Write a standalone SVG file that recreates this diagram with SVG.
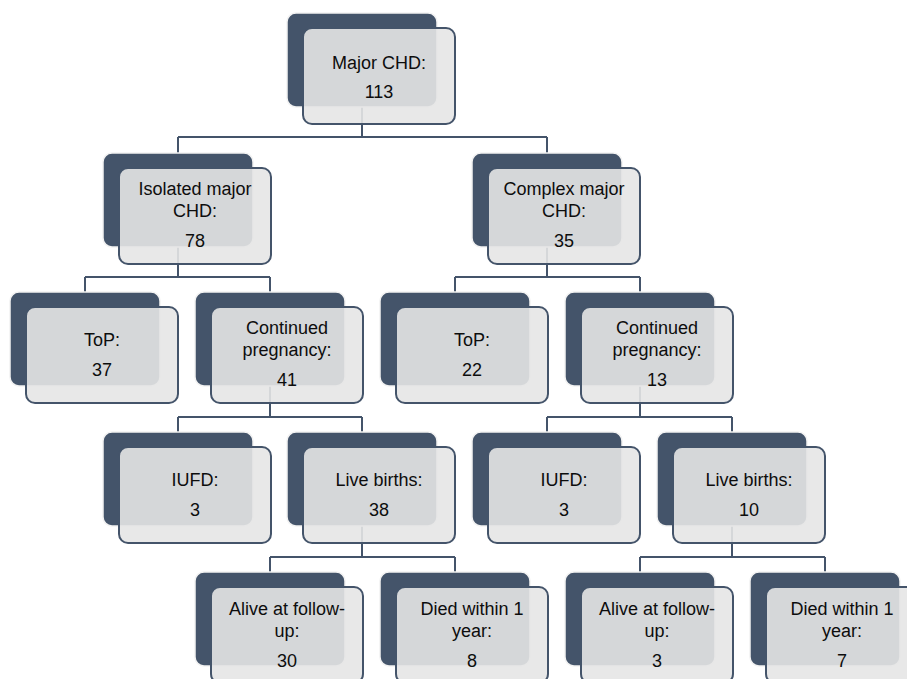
<svg xmlns="http://www.w3.org/2000/svg" width="907" height="679" viewBox="0 0 907 679">
<style>
.bk{fill:#44546a;stroke:#f2f2f2;stroke-width:1.5}
.fr{fill:#e6e6e6;fill-opacity:0.9;stroke:#44546a;stroke-width:2}
.cn{fill:none;stroke:#44546a;stroke-width:2}
text{font-family:"Liberation Sans",Arial,sans-serif;font-size:18px;fill:#0d0d0d;text-anchor:middle}
</style>
<rect width="907" height="679" fill="#fff"/>
<g id="connectors" class="cn">
<path d="M362 106V137M178 137H547M178 137V153M547 137V153"/>
<path d="M178 246V277M85 277H270M85 277V292M270 277V292"/>
<path d="M547 246V277M455 277H640M455 277V292M640 277V292"/>
<path d="M270 386V417M178 417H362M178 417V432M362 417V432"/>
<path d="M640 386V417M547 417H732M547 417V432M732 417V432"/>
<path d="M362 526V557M270 557H455M270 557V572M455 557V572"/>
<path d="M732 526V557M640 557H825M640 557V572M825 557V572"/>
</g>
<g id="n-major">
<rect class="bk" x="287" y="13" width="150" height="94" rx="9"/>
<rect class="fr" x="303" y="28" width="152" height="96" rx="9"/>
<text x="379" y="69">Major CHD:</text><text x="379" y="98">113</text>
</g>
<g id="n-isolated">
<rect class="bk" x="103" y="153" width="150" height="94" rx="9"/>
<rect class="fr" x="119" y="168" width="152" height="96" rx="9"/>
<text x="195" y="195">Isolated major</text><text x="195" y="217">CHD:</text><text x="195" y="247">78</text>
</g>
<g id="n-complex">
<rect class="bk" x="472" y="153" width="150" height="94" rx="9"/>
<rect class="fr" x="488" y="168" width="152" height="96" rx="9"/>
<text x="564" y="195">Complex major</text><text x="564" y="217">CHD:</text><text x="564" y="247">35</text>
</g>
<g id="n-top1">
<rect class="bk" x="10" y="292" width="150" height="94" rx="9"/>
<rect class="fr" x="26" y="307" width="152" height="96" rx="9"/>
<text x="102" y="346">ToP:</text><text x="102" y="376">37</text>
</g>
<g id="n-cont1">
<rect class="bk" x="195" y="292" width="150" height="94" rx="9"/>
<rect class="fr" x="211" y="307" width="152" height="96" rx="9"/>
<text x="287" y="334">Continued</text><text x="287" y="356">pregnancy:</text><text x="287" y="386">41</text>
</g>
<g id="n-top2">
<rect class="bk" x="380" y="292" width="150" height="94" rx="9"/>
<rect class="fr" x="396" y="307" width="152" height="96" rx="9"/>
<text x="472" y="346">ToP:</text><text x="472" y="376">22</text>
</g>
<g id="n-cont2">
<rect class="bk" x="565" y="292" width="150" height="94" rx="9"/>
<rect class="fr" x="581" y="307" width="152" height="96" rx="9"/>
<text x="657" y="334">Continued</text><text x="657" y="356">pregnancy:</text><text x="657" y="386">13</text>
</g>
<g id="n-iufd1">
<rect class="bk" x="103" y="432" width="150" height="94" rx="9"/>
<rect class="fr" x="119" y="447" width="152" height="96" rx="9"/>
<text x="195" y="486">IUFD:</text><text x="195" y="516">3</text>
</g>
<g id="n-live1">
<rect class="bk" x="287" y="432" width="150" height="94" rx="9"/>
<rect class="fr" x="303" y="447" width="152" height="96" rx="9"/>
<text x="379" y="486">Live births:</text><text x="379" y="516">38</text>
</g>
<g id="n-iufd2">
<rect class="bk" x="472" y="432" width="150" height="94" rx="9"/>
<rect class="fr" x="488" y="447" width="152" height="96" rx="9"/>
<text x="564" y="486">IUFD:</text><text x="564" y="516">3</text>
</g>
<g id="n-live2">
<rect class="bk" x="657" y="432" width="150" height="94" rx="9"/>
<rect class="fr" x="673" y="447" width="152" height="96" rx="9"/>
<text x="749" y="486">Live births:</text><text x="749" y="516">10</text>
</g>
<g id="n-alive1">
<rect class="bk" x="195" y="572" width="150" height="94" rx="9"/>
<rect class="fr" x="211" y="587" width="152" height="96" rx="9"/>
<text x="287" y="615">Alive at follow-</text><text x="287" y="637">up:</text><text x="287" y="667">30</text>
</g>
<g id="n-died1">
<rect class="bk" x="380" y="572" width="150" height="94" rx="9"/>
<rect class="fr" x="396" y="587" width="152" height="96" rx="9"/>
<text x="472" y="615">Died within 1</text><text x="472" y="637">year:</text><text x="472" y="667">8</text>
</g>
<g id="n-alive2">
<rect class="bk" x="565" y="572" width="150" height="94" rx="9"/>
<rect class="fr" x="581" y="587" width="152" height="96" rx="9"/>
<text x="657" y="615">Alive at follow-</text><text x="657" y="637">up:</text><text x="657" y="667">3</text>
</g>
<g id="n-died2">
<rect class="bk" x="750" y="572" width="150" height="94" rx="9"/>
<rect class="fr" x="766" y="587" width="152" height="96" rx="9"/>
<text x="842" y="615">Died within 1</text><text x="842" y="637">year:</text><text x="842" y="667">7</text>
</g>
</svg>
